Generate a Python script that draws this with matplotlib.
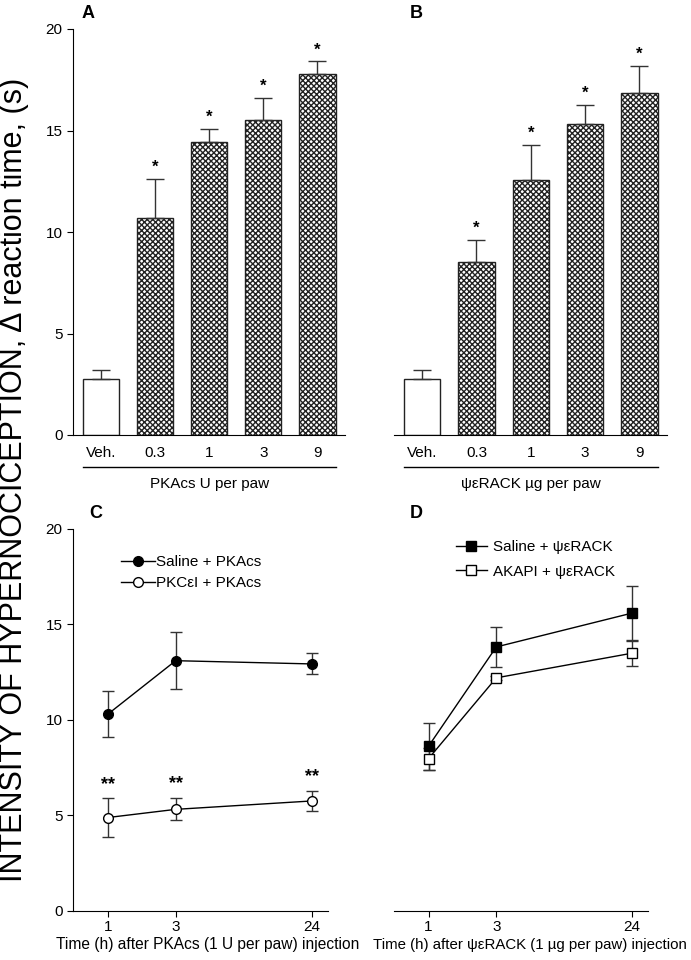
import matplotlib
matplotlib.use("Agg")
import matplotlib.pyplot as plt
from matplotlib.lines import Line2D
import numpy as np

plt.rcParams['font.family'] = ['Liberation Sans', 'DejaVu Sans']
plt.rcParams['hatch.linewidth'] = 1.0

# ---- data ----
bar_cats = ["Veh.", "0.3", "1", "3", "9"]
a_vals = [2.75, 10.7, 14.43, 15.5, 17.8]
a_err = [0.45, 1.9, 0.65, 1.1, 0.6]
b_vals = [2.75, 8.5, 12.55, 15.3, 16.85]
b_err = [0.45, 1.1, 1.75, 0.95, 1.35]
sig_bars = [False, True, True, True, True]

time_labels = ["1", "3", "24"]
c_saline = [10.29, 13.1, 12.93]
c_saline_err = [1.2, 1.5, 0.55]
c_pkcei = [4.88, 5.31, 5.75]
c_pkcei_err = [1.0, 0.58, 0.54]

d_saline = [8.62, 13.82, 15.59]
d_saline_err = [1.23, 1.03, 1.4]
d_akapi = [7.97, 12.2, 13.49]
d_akapi_err = [0.58, 0.12, 0.66]

W, H = 691, 960
fig = plt.figure(figsize=(W / 100, H / 100), dpi=100)

def ax_rect(x0, y0, x1, y1):
    return [x0 / W, 1 - y1 / H, (x1 - x0) / W, (y1 - y0) / H]

ecol = '#333333'
FS = 11

def bar_panel(ax, vals, errs, left_axis, xlabel):
    x = np.arange(len(bar_cats))
    for i, (v, e) in enumerate(zip(vals, errs)):
        hatched = sig_bars[i]
        ax.bar(x[i], v, width=0.67, facecolor='white', edgecolor='#222222',
               linewidth=1.0, hatch='xxxxxx' if hatched else None, zorder=2)
        ax.errorbar(x[i], v, yerr=[[0], [e]], fmt='none', ecolor=ecol,
                    elinewidth=1.0, capsize=6.5, capthick=1.0, zorder=3)
        if hatched:
            ax.text(x[i], v + e + 0.2, '*', ha='center', va='bottom',
                    fontsize=12, fontweight='bold')
    ax.set_xlim(-0.52, 4.51)
    ax.set_ylim(0, 20)
    ax.set_xticks(x)
    ax.set_xticklabels(bar_cats, fontsize=FS)
    ax.tick_params(axis='x', length=0, pad=8)
    ax.spines['top'].set_visible(False)
    ax.spines['right'].set_visible(False)
    if left_axis:
        ax.set_yticks([0, 5, 10, 15, 20])
        ax.tick_params(axis='y', labelsize=FS, length=4, direction='out')
    else:
        ax.spines['left'].set_visible(False)
        ax.set_yticks([])
    ax.plot([-0.33, 4.34], [-1.57, -1.57], color='black', lw=1.0, clip_on=False)
    ax.text(2.0, -2.4, xlabel, ha='center', va='center', fontsize=FS)

axA = fig.add_axes(ax_rect(73, 29, 345, 435))
bar_panel(axA, a_vals, a_err, True, "PKAcs U per paw")
axB = fig.add_axes(ax_rect(394, 29, 667, 435))
bar_panel(axB, b_vals, b_err, False, "ψεRACK µg per paw")

xpos = [0, 1, 3]

def line_panel(ax, left_axis):
    ax.set_xlim(-0.51, 3.24)
    ax.set_ylim(0, 20)
    ax.set_xticks(xpos)
    ax.set_xticklabels(time_labels, fontsize=FS)
    ax.tick_params(axis='x', length=4, direction='out', pad=3)
    ax.spines['top'].set_visible(False)
    ax.spines['right'].set_visible(False)
    if left_axis:
        ax.set_yticks([0, 5, 10, 15, 20])
        ax.tick_params(axis='y', labelsize=FS, length=4, direction='out')
    else:
        ax.spines['left'].set_visible(False)
        ax.set_yticks([])

def series(ax, vals, errs, marker, fc):
    ax.errorbar(xpos, vals, yerr=errs, color='black', ecolor=ecol, marker=marker,
                markersize=7, markerfacecolor=fc, markeredgecolor='black', lw=1.0,
                capsize=4, elinewidth=1.0, zorder=3)

def handle(marker, fc):
    return Line2D([0], [0], color='black', lw=1.0, marker=marker, markersize=7,
                  markerfacecolor=fc, markeredgecolor='black')

axC = fig.add_axes(ax_rect(73, 529, 328, 910.7))
line_panel(axC, True)
series(axC, c_saline, c_saline_err, 'o', 'black')
series(axC, c_pkcei, c_pkcei_err, 'o', 'white')
for xp, v, e in zip(xpos, c_pkcei, c_pkcei_err):
    axC.text(xp, v + e + 0.3, '**', ha='center', va='bottom', fontsize=13,
             fontweight='bold')
axC.legend([handle('o', 'black'), handle('o', 'white')],
           ['Saline + PKAcs', 'PKCεI + PKAcs'],
           loc='upper left', bbox_to_anchor=(0.165, 0.947), frameon=False,
           fontsize=FS, handlelength=2.2, handletextpad=0.1,
           labelspacing=0.45, borderaxespad=0)

axD = fig.add_axes(ax_rect(394, 529, 648, 910.7))
line_panel(axD, False)
series(axD, d_saline, d_saline_err, 's', 'black')
series(axD, d_akapi, d_akapi_err, 's', 'white')
axD.legend([handle('s', 'black'), handle('s', 'white')],
           ['Saline + ψεRACK', 'AKAPI + ψεRACK'],
           loc='upper left', bbox_to_anchor=(0.22, 0.987), frameon=False,
           fontsize=FS, handlelength=2.0, handletextpad=0.45,
           labelspacing=0.7, borderaxespad=0)

fig.text(208 / W, 1 - 945 / H, "Time (h) after PKAcs (1 U per paw) injection",
         ha='center', va='center', fontsize=11.2)
fig.text(530 / W, 1 - 945 / H, "Time (h) after ψεRACK (1 µg per paw) injection",
         ha='center', va='center', fontsize=10.8)

for lab, (px, py) in {"A": (88, 14), "B": (416, 14), "C": (96, 514), "D": (416, 514)}.items():
    fig.text(px / W, 1 - py / H, lab, ha='center', va='center', fontsize=13,
             fontweight='bold')

fig.text(14 / W, 0.5, "INTENSITY OF HYPERNOCICEPTION, Δ reaction time, (s)",
         rotation=90, ha='center', va='center', fontsize=22)

fig.savefig("out.png", dpi=100)
